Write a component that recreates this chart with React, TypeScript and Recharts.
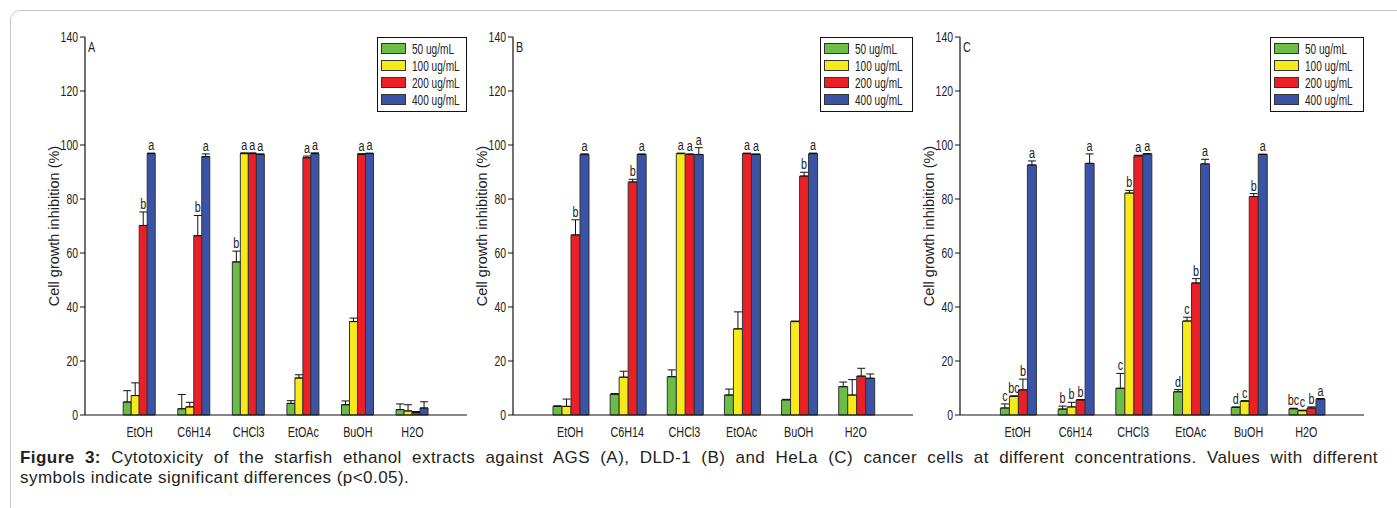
import React from 'react';
import { BarChart, Bar, XAxis, YAxis, ErrorBar, LabelList, Legend } from 'recharts';

const categories = ['EtOH', 'C6H14', 'CHCl3', 'EtOAc', 'BuOH', 'H2O'];
const seriesNames = ['50 ug/mL', '100 ug/mL', '200 ug/mL', '400 ug/mL'];
const yTicks = [0, 20, 40, 60, 80, 100, 120, 140];

// Panel A (AGS)
const a50 = [4.8, 2.3, 56.7, 4.3, 3.8, 2.0];
const a100 = [7.2, 3.0, 96.8, 13.7, 34.6, 1.5];
const a200 = [70.2, 66.4, 96.8, 95.3, 96.5, 0.9];
const a400 = [96.8, 95.7, 96.5, 96.8, 96.8, 2.6];
const a50Err = [4.2, 5.3, 4.0, 1.0, 1.4, 2.1];
const a100Err = [4.7, 1.7, 0.3, 1.2, 1.3, 2.3];
const a200Err = [5.0, 7.5, 0.3, 0.6, 0.3, 0.4];
const a400Err = [0.2, 1.0, 0.2, 0.3, 0.2, 2.3];
const a50Sig = ['', '', 'b', '', '', ''];
const a100Sig = ['', '', 'a', '', '', ''];
const a200Sig = ['b', 'b', 'a', 'a', 'a', ''];
const a400Sig = ['a', 'a', 'a', 'a', 'a', ''];

// Panel B (DLD-1)
const b50 = [3.2, 7.7, 14.2, 7.4, 5.6, 10.5];
const b100 = [3.2, 14.0, 96.8, 31.9, 34.6, 7.4];
const b200 = [66.7, 86.3, 96.5, 96.8, 88.5, 14.4];
const b400 = [96.5, 96.5, 96.5, 96.5, 96.8, 13.6];
const b50Err = [0.2, 0.2, 2.5, 2.2, 0.2, 1.7];
const b100Err = [2.7, 2.2, 0.2, 6.3, 0.2, 5.7];
const b200Err = [5.6, 1.0, 0.2, 0.2, 1.4, 2.9];
const b400Err = [0.2, 0.2, 2.5, 0.2, 0.2, 1.6];
const b50Sig = ['', '', '', '', '', ''];
const b100Sig = ['', '', 'a', '', '', ''];
const b200Sig = ['b', 'b', 'a', 'a', 'b', ''];
const b400Sig = ['a', 'a', 'a', 'a', 'a', ''];

// Panel C (HeLa)
const c50 = [2.6, 2.2, 9.9, 8.6, 2.8, 2.3];
const c100 = [6.9, 3.0, 82.2, 34.8, 5.1, 1.6];
const c200 = [9.3, 5.6, 96.0, 48.9, 80.9, 2.6];
const c400 = [92.6, 93.2, 96.7, 93.0, 96.5, 5.9];
const c50Err = [1.5, 1.1, 5.5, 0.8, 0.2, 0.2];
const c100Err = [0.2, 1.7, 1.0, 1.4, 0.2, 0.2];
const c200Err = [4.0, 0.1, 0.2, 1.6, 1.1, 0.4];
const c400Err = [1.5, 3.5, 0.1, 1.7, 0.1, 0.2];
const c50Sig = ['c', 'b', 'c', 'd', 'd', 'bc'];
const c100Sig = ['bc', 'b', 'b', 'c', 'c', 'c'];
const c200Sig = ['b', 'b', 'a', 'b', 'b', 'b'];
const c400Sig = ['a', 'a', 'a', 'a', 'a', 'a'];

const COLORS = ['#6cbd45', '#f6ea1a', '#ed1f26', '#3a53a4'];
const FONT = '"Liberation Sans", Arial, sans-serif';
const SQUEEZE = 0.72;
const PLOT_TOP = 37;
const PLOT_BOTTOM = 415;

type PanelSpec = {
  tag: string;
  left: number;
  right: number;
  legendWidth: number;
  vals: number[][];
  errs: number[][];
  sigs: string[][];
};

const panels: PanelSpec[] = [
  { tag: 'A', left: 85, right: 467, legendWidth: 90, vals: [a50, a100, a200, a400], errs: [a50Err, a100Err, a200Err, a400Err], sigs: [a50Sig, a100Sig, a200Sig, a400Sig] },
  { tag: 'B', left: 513, right: 913, legendWidth: 93, vals: [b50, b100, b200, b400], errs: [b50Err, b100Err, b200Err, b400Err], sigs: [b50Sig, b100Sig, b200Sig, b400Sig] },
  { tag: 'C', left: 960, right: 1364, legendWidth: 94, vals: [c50, c100, c200, c400], errs: [c50Err, c100Err, c200Err, c400Err], sigs: [c50Sig, c100Sig, c200Sig, c400Sig] },
];

const NarrowText = ({ x, y, anchor, dy, size = 14, children }: any) => (
  <text
    transform={`translate(${x},${y}) scale(${SQUEEZE},1)`}
    x={0}
    y={0}
    dy={dy}
    textAnchor={anchor}
    fontFamily={FONT}
    fontSize={size}
    fill="#222"
  >
    {children}
  </text>
);

const YTick = (props: any) => (
  <NarrowText x={props.x} y={props.y} anchor="end" dy="0.36em" size={14.5}>
    {props.payload.value}
  </NarrowText>
);

const XTick = (props: any) => (
  <NarrowText x={props.x} y={props.y} anchor="middle" dy="0.71em" size={15}>
    {props.payload.value}
  </NarrowText>
);

const makeLabel = (vals: number[], errs: number[]) => (props: any) => {
  const vb = props.viewBox || {};
  const x = props.x ?? vb.x;
  const y = props.y ?? vb.y;
  const width = props.width ?? vb.width;
  const height = props.height ?? vb.height;
  const { value, index } = props;
  if (!value) return null;
  const v = vals[index];
  const px = v ? height / v : 0;
  const top = y - errs[index] * px;
  return (
    <NarrowText x={x + width / 2} y={top - 3} anchor="middle" size={15}>
      {value}
    </NarrowText>
  );
};

const LegendBox = ({ w }: { w: number }) => (
  <div
    style={{
      width: w,
      boxSizing: 'border-box',
      border: '1px solid #111',
      background: '#fff',
      padding: '2px 0 3px 3px',
      fontFamily: FONT,
      fontSize: 14,
      color: '#222',
    }}
  >
    {seriesNames.map((n, i) => (
      <div key={n} style={{ display: 'flex', alignItems: 'center', height: 17, whiteSpace: 'nowrap' }}>
        <span
          style={{
            display: 'inline-block',
            flex: '0 0 auto',
            width: 25,
            height: 11,
            boxSizing: 'border-box',
            background: COLORS[i],
            border: '1px solid #333',
            marginRight: 6,
          }}
        />
        <span style={{ display: 'inline-block', transform: `scaleX(${SQUEEZE})`, transformOrigin: 'left center' }}>{n}</span>
      </div>
    ))}
  </div>
);

function Panel({ spec }: { spec: PanelSpec }) {
  const yAxisW = 55;
  const chartLeft = spec.left - yAxisW;
  const chartTop = 27;
  const marginRight = 6;
  const width = spec.right - chartLeft + marginRight;
  const height = PLOT_BOTTOM - chartTop + 30;
  const band = (spec.right - spec.left) / 7;
  const keys = ['s50', 's100', 's200', 's400'];
  const rows = categories.map((c, i) => {
    const r: any = { cat: c };
    keys.forEach((k, j) => {
      r[k] = spec.vals[j][i];
      r[k + 'e'] = [0, spec.errs[j][i]];
      r[k + 's'] = spec.sigs[j][i];
    });
    return r;
  });
  return (
    <div style={{ position: 'absolute', left: chartLeft, top: chartTop }}>
      <BarChart
        width={width}
        height={height}
        data={rows}
        margin={{ top: PLOT_TOP - chartTop, right: marginRight, bottom: 0, left: 0 }}
        barCategoryGap="20%"
        barGap={0}
      >
        <XAxis
          dataKey="cat"
          height={30}
          padding={{ left: band / 2, right: band / 2 }}
          tickLine={false}
          tickSize={0}
          tickMargin={11}
          axisLine={{ stroke: '#111', strokeWidth: 1.2 }}
          tick={<XTick />}
          interval={0}
        />
        <XAxis xAxisId="top" orientation="top" dataKey="cat" height={0} tick={false} tickLine={false} axisLine={{ stroke: '#111', strokeWidth: 1.2 }} />
        <YAxis
          domain={[0, 140]}
          ticks={yTicks}
          width={yAxisW}
          tickSize={5}
          tickMargin={2}
          tick={<YTick />}
          tickLine={{ stroke: '#111' }}
          axisLine={{ stroke: '#111', strokeWidth: 1.2 }}
          label={{
            value: 'Cell growth inhibition (%)',
            angle: -90,
            position: 'insideLeft',
            offset: 24,
            style: { textAnchor: 'middle', fontFamily: FONT, fontSize: 14.5, fill: '#222' },
          }}
        />
        <YAxis yAxisId="right" orientation="right" width={0} tick={false} tickLine={false} axisLine={{ stroke: '#111', strokeWidth: 1.2 }} />
        <Legend
          layout="vertical"
          align="center"
          verticalAlign="middle"
          wrapperStyle={{ top: PLOT_TOP - chartTop, right: marginRight, left: 'auto', width: 'auto', height: 'auto' }}
          content={() => <LegendBox w={spec.legendWidth} />}
        />
        {keys.map((k, j) => (
          <Bar
            key={k}
            dataKey={k}
            name={seriesNames[j]}
            fill={COLORS[j]}
            stroke="#333"
            strokeWidth={1}
            isAnimationActive={false}
          >
            <ErrorBar dataKey={k + 'e'} direction="y" width={4} stroke="#111" strokeWidth={1} isAnimationActive={false} />
            <LabelList dataKey={k + 's'} content={makeLabel(spec.vals[j], spec.errs[j])} />
          </Bar>
        ))}
      </BarChart>
      <div
        style={{
          position: 'absolute',
          left: yAxisW + 3,
          top: PLOT_TOP - chartTop + 3,
          fontFamily: FONT,
          fontSize: 15,
          color: '#222',
          lineHeight: '14px',
          transform: `scaleX(${SQUEEZE})`,
          transformOrigin: 'left top',
        }}
      >
        {spec.tag}
      </div>
    </div>
  );
}

export default function App() {
  return (
    <div style={{ position: 'absolute', left: 0, top: 0, width: 1397, height: 508, overflow: 'hidden', background: '#fff' }}>
      <div
        style={{
          position: 'absolute',
          left: 10,
          top: 10,
          width: 1420,
          height: 560,
          border: '1px solid #c9c9c9',
          borderRadius: 10,
        }}
      />
      {panels.map((p) => (
        <Panel key={p.tag} spec={p} />
      ))}
      <div
        style={{
          position: 'absolute',
          left: 20,
          top: 448,
          width: 1358,
          fontFamily: FONT,
          fontSize: 17,
          lineHeight: '20px',
          letterSpacing: '0.45px',
          color: '#231f20',
        }}
      >
        <div style={{ textAlign: 'justify', textAlignLast: 'justify' as any }}>
          <b>Figure 3:</b> Cytotoxicity of the starfish ethanol extracts against AGS (A), DLD-1 (B) and HeLa (C) cancer cells at
          different concentrations. Values with different
        </div>
        <div>symbols indicate significant differences (p&lt;0.05).</div>
      </div>
    </div>
  );
}
